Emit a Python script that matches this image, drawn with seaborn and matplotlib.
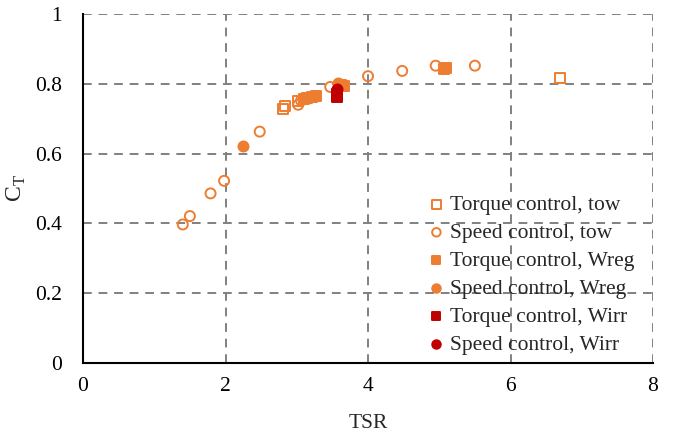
import pandas as pd
import matplotlib
matplotlib.use('Agg')
import matplotlib.pyplot as plt
import seaborn as sns

# Data
torque_tow_tsr = [2.80, 2.84, 3.02, 6.70]
torque_tow_ct = [0.728, 0.737, 0.752, 0.818]

speed_tow_tsr = [1.40, 1.50, 1.79, 1.98, 2.48, 3.02, 3.06, 3.47, 4.00, 4.48, 4.95, 5.50]
speed_tow_ct = [0.397, 0.421, 0.486, 0.522, 0.663, 0.740, 0.752, 0.791, 0.822, 0.837, 0.852, 0.852]

torque_wreg_tsr = [3.10, 3.15, 3.22, 3.27, 3.62, 3.67, 5.07, 5.10]
torque_wreg_ct = [0.757, 0.760, 0.762, 0.766, 0.797, 0.795, 0.842, 0.846]

speed_wreg_tsr = [2.25, 3.58]
speed_wreg_ct = [0.623, 0.803]

torque_wirr_tsr = [3.57, 3.57]
torque_wirr_ct = [0.762, 0.772]

speed_wirr_tsr = [3.57]
speed_wirr_ct = [0.786]

orange = '#ED7D31'
darkred = '#C00000'

sns.set_style('white')
plt.rcParams['font.family'] = 'serif'
plt.rcParams['font.serif'] = ['Liberation Serif', 'DejaVu Serif']
plt.rcParams['mathtext.fontset'] = 'custom'
plt.rcParams['mathtext.rm'] = 'Liberation Serif'

fig = plt.figure(figsize=(6.75, 4.37), dpi=100)
ax = fig.add_axes([0.123, 0.1693, 0.8444, 0.7986])

series = [
    (torque_tow_tsr, torque_tow_ct, 's', 'none', orange, 'Torque control, tow'),
    (speed_tow_tsr, speed_tow_ct, 'o', 'none', orange, 'Speed control, tow'),
    (torque_wreg_tsr, torque_wreg_ct, 's', orange, orange, 'Torque control, Wreg'),
    (speed_wreg_tsr, speed_wreg_ct, 'o', orange, orange, 'Speed control, Wreg'),
    (torque_wirr_tsr, torque_wirr_ct, 's', darkred, darkred, 'Torque control, Wirr'),
    (speed_wirr_tsr, speed_wirr_ct, 'o', darkred, darkred, 'Speed control, Wirr'),
]

for x, y, m, fc, ec, lab in series:
    df = pd.DataFrame({'TSR': x, 'CT': y})
    sns.scatterplot(data=df, x='TSR', y='CT', marker=m, s=52, facecolor=fc,
                    edgecolor=ec, linewidth=1.4, label=lab, ax=ax, zorder=3)

ax.set_xlim(0, 8)
ax.set_ylim(0, 1)
ax.set_xticks([0, 2, 4, 6, 8])
ax.set_yticks([0, 0.2, 0.4, 0.6, 0.8, 1])
ax.set_yticklabels(['0', '0.2', '0.4', '0.6', '0.8', '1'])
ax.grid(True, color='#808080', linestyle=(0, (4.5, 3.5)), linewidth=1.4)
ax.set_axisbelow(True)

for s in ['top', 'right']:
    ax.spines[s].set_visible(False)
for s in ['left', 'bottom']:
    ax.spines[s].set_color('black')
    ax.spines[s].set_linewidth(1.5)

ax.tick_params(axis='both', labelsize=15.5, length=0, colors='black')
ax.tick_params(axis='x', pad=10)
ax.tick_params(axis='y', pad=15)
ax.set_xlabel('TSR', fontsize=15.5, labelpad=13)
ax.set_ylabel(r'C$_\mathregular{T}$', fontsize=17, labelpad=5)

ax.legend(loc='lower right', frameon=False, fontsize=15.5, handlelength=0.8,
          handletextpad=0.25, labelspacing=0.37, borderaxespad=0.05,
          markerscale=0.85, bbox_to_anchor=(0.985, -0.005))

plt.savefig('out.png', dpi=100)
